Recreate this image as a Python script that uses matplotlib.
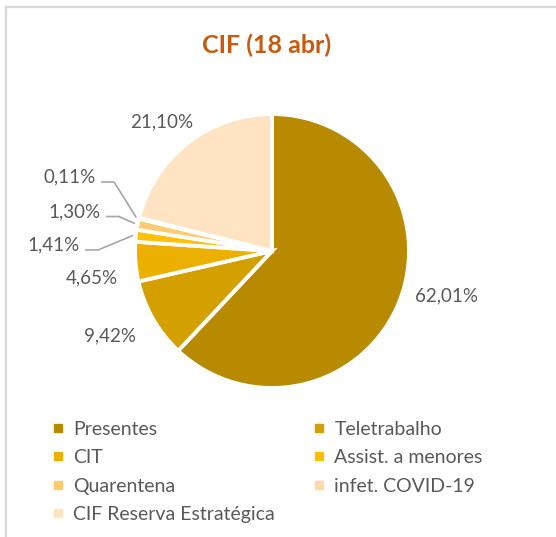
import numpy as np
import matplotlib.pyplot as plt
from matplotlib.lines import Line2D

plt.rcParams['font.family'] = ['Lato', 'DejaVu Sans']

categories = ['Presentes', 'Teletrabalho', 'CIT', 'Assist. a menores',
              'Quarentena', 'infet. COVID-19', 'CIF Reserva Estratégica']
shares = [62.01, 9.42, 4.65, 1.41, 1.30, 0.11, 21.10]
colors = ['#B88A00', '#D4A000', '#EBB000', '#FFC000',
          '#FFCB6E', '#FFD9A8', '#FFE4C4']

# label placement around the pie (data units, radius = 1)
label_xy = [(1.277, -0.328), (-1.182, -0.620), (-1.314, -0.197),
            (-1.591, 0.044), (-1.438, 0.288), (-1.474, 0.540),
            (-0.803, 0.942)]
leader = [False, False, False, True, True, True, False]

text_col = '#595959'
W, H = 556, 537
fig = plt.figure(figsize=(W / 100, H / 100), dpi=100)

cx, cy, r = 272, 251, 137
ax = fig.add_axes([(cx - r) / W, (H - cy - r) / H, 2 * r / W, 2 * r / H])
wedges, _ = ax.pie(shares, colors=colors, startangle=90, counterclock=False,
                   wedgeprops=dict(edgecolor='white', linewidth=2.8))
ax.set_xlim(-1, 1)
ax.set_ylim(-1, 1)
ax.set_aspect('equal')
ax.axis('off')

px = 1 / r
for w, v, (tx, ty), lead in zip(wedges, shares, label_xy, leader):
    txt = f'{v:.2f}%'.replace('.', ',')
    ax.text(tx, ty, txt, ha='center', va='center', fontsize=13.5,
            color=text_col, clip_on=False)
    if lead:
        mid = np.deg2rad((w.theta1 + w.theta2) / 2)
        x0, y0 = tx + 31 * px, ty - 5 * px
        x1 = x0 + 13 * px
        ex, ey = 1.02 * np.cos(mid), 1.02 * np.sin(mid)
        ax.plot([x0, x1, ex], [y0, y0, ey], color='#A6A6A6', lw=1.2,
                clip_on=False, solid_capstyle='butt')

fig.text(266.5 / W, 1 - 45 / H, 'CIF (18 abr)', ha='center', va='center',
         fontsize=18, fontweight='bold', color='#C55A11')

handles = [Line2D([], [], marker='s', linestyle='', color=c, markersize=5.5)
           for c in colors]
cols = [[0, 2, 4, 6], [1, 3, 5]]
for idx, x in zip(cols, [50, 311]):
    leg = fig.legend([handles[i] for i in idx], [categories[i] for i in idx],
                     loc='upper left', bbox_to_anchor=(x / W, 1 - 421 / H),
                     frameon=False, fontsize=14, handlelength=0.8,
                     handletextpad=0.4, labelspacing=0.58, borderpad=0,
                     borderaxespad=0)
    for t in leg.get_texts():
        t.set_color(text_col)

# chart area border (top and left edges)
fig.add_artist(Line2D([5.5 / W, 5.5 / W], [0, 1 - 6.5 / H], color='#D9D9D9',
                      lw=1.6, transform=fig.transFigure))
fig.add_artist(Line2D([5.5 / W, 1], [1 - 6.5 / H, 1 - 6.5 / H], color='#D9D9D9',
                      lw=1.6, transform=fig.transFigure))

fig.savefig('out.png', dpi=100, facecolor='white')
